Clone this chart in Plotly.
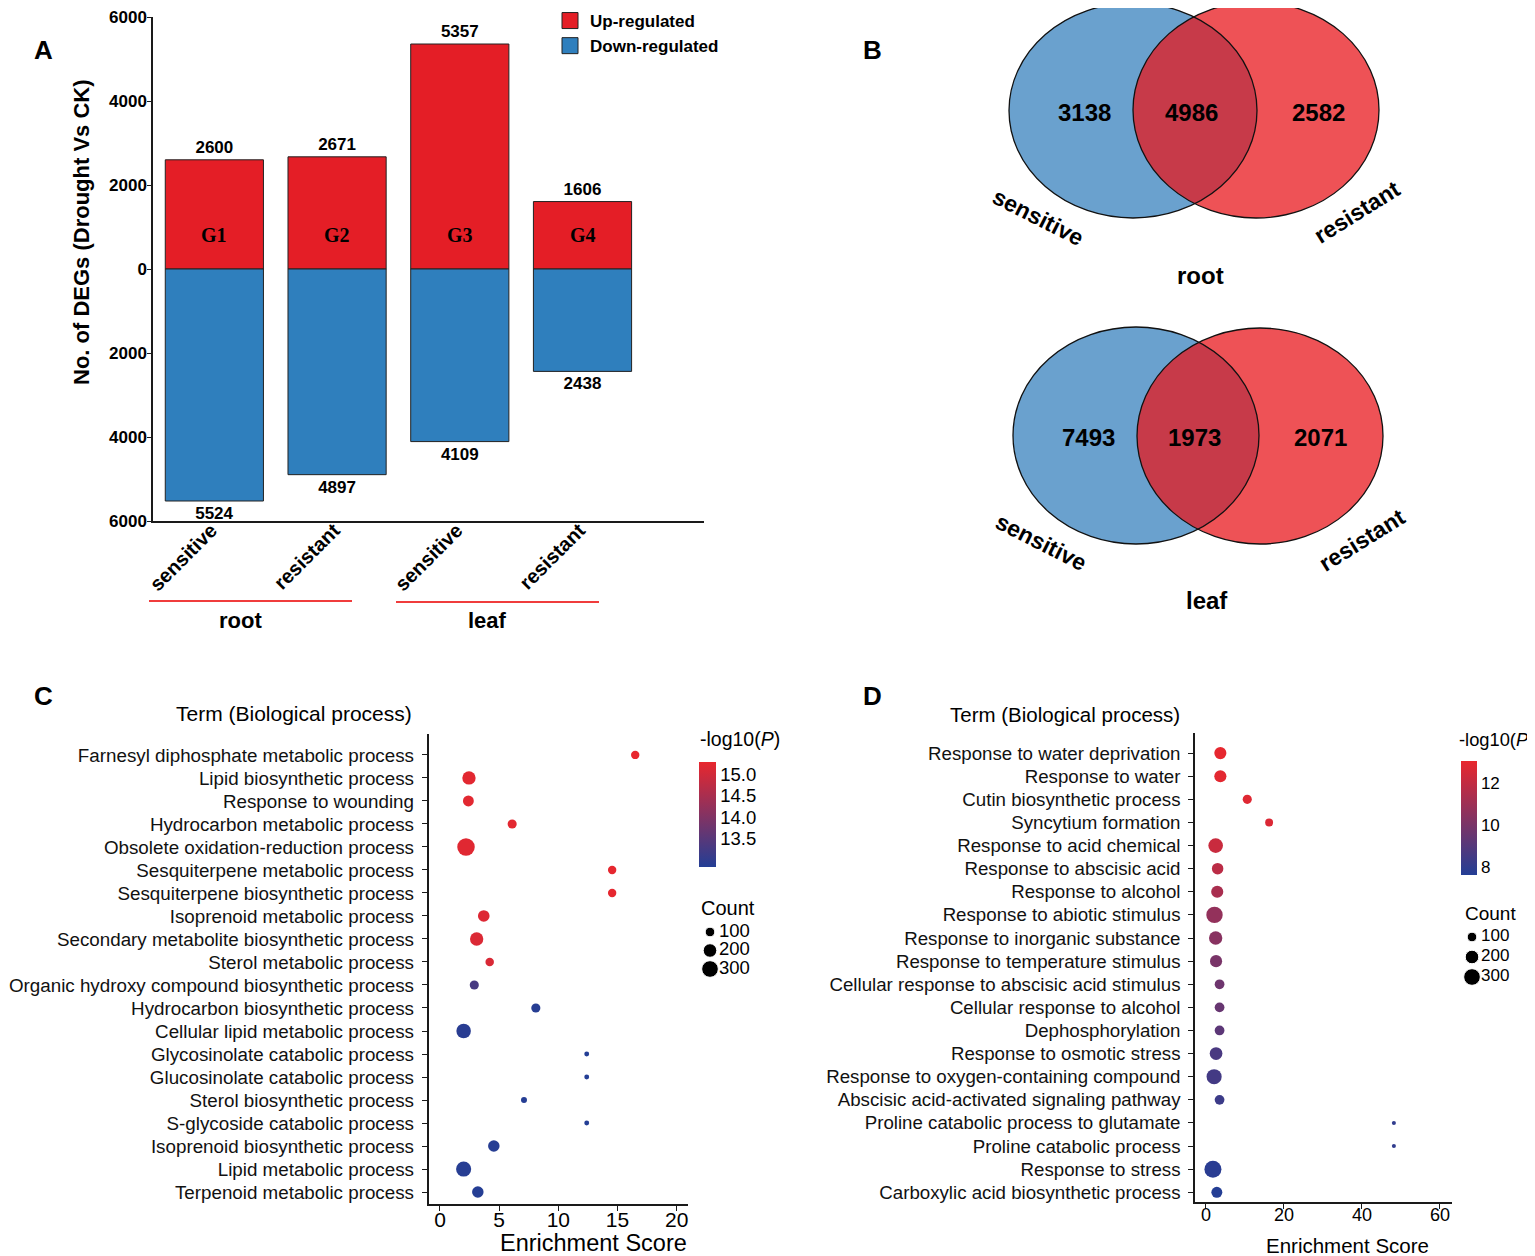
import plotly.graph_objects as go

# The page places the figure 8 px from the top-left corner of the window,
# so the figure is drawn 8 px smaller and every reference pixel is shifted by 8.
OFF = 8
W, H = 1535 - OFF, 1256 - OFF


def X(px):
    return (px - OFF) / W


def Y(py):
    return 1 - (py - OFF) / H


NARROW = "Liberation Sans, Arial, sans-serif"
SANS = "Liberation Sans, Arial, sans-serif"
SERIF = "Liberation Serif, Times New Roman, serif"

# ---------------- Panel A data ----------------
groups = ["G1", "G2", "G3", "G4"]
a_ticks = ["sensitive", "resistant", "sensitive", "resistant"]
tissues = ["root", "leaf"]
up_counts = [2600, 2671, 5357, 1606]
down_counts = [5524, 4897, 4109, 2438]
a_yticks = [-6000, -4000, -2000, 0, 2000, 4000, 6000]

# ---------------- Panel B data ----------------
venn_tissues = ["root", "leaf"]
venn_sets = ["sensitive", "resistant"]
only_sensitive = [3138, 7493]
shared = [4986, 1973]
only_resistant = [2582, 2071]

# ---------------- Panel C data ----------------
c_terms = [
    "Farnesyl diphosphate metabolic process",
    "Lipid biosynthetic process",
    "Response to wounding",
    "Hydrocarbon metabolic process",
    "Obsolete oxidation-reduction process",
    "Sesquiterpene metabolic process",
    "Sesquiterpene biosynthetic process",
    "Isoprenoid metabolic process",
    "Secondary metabolite biosynthetic process",
    "Sterol metabolic process",
    "Organic hydroxy compound biosynthetic process",
    "Hydrocarbon biosynthetic process",
    "Cellular lipid metabolic process",
    "Glycosinolate catabolic process",
    "Glucosinolate catabolic process",
    "Sterol biosynthetic process",
    "S-glycoside catabolic process",
    "Isoprenoid biosynthetic process",
    "Lipid metabolic process",
    "Terpenoid metabolic process",
]
c_score = [16.5, 2.45, 2.4, 6.1, 2.2, 14.55, 14.55, 3.7, 3.1, 4.2,
           2.9, 8.1, 2.0, 12.4, 12.4, 7.1, 12.4, 4.55, 2.0, 3.2]
c_count = [76, 193, 128, 90, 330, 76, 76, 146, 193, 78,
           90, 90, 228, 26, 26, 39, 26, 143, 248, 143]
c_logp = [15.28, 15.2, 15.2, 15.22, 15.18, 15.25, 15.25, 15.15, 15.12, 15.1,
          13.3, 12.9, 12.92, 12.86, 12.86, 12.88, 12.86, 12.9, 12.9, 12.88]

# ---------------- Panel D data ----------------
d_terms = [
    "Response to water deprivation",
    "Response to water",
    "Cutin biosynthetic process",
    "Syncytium formation",
    "Response to acid chemical",
    "Response to abscisic acid",
    "Response to alcohol",
    "Response to abiotic stimulus",
    "Response to inorganic substance",
    "Response to temperature stimulus",
    "Cellular response to abscisic acid stimulus",
    "Cellular response to alcohol",
    "Dephosphorylation",
    "Response to osmotic stress",
    "Response to oxygen-containing compound",
    "Abscisic acid-activated signaling pathway",
    "Proline catabolic process to glutamate",
    "Proline catabolic process",
    "Response to stress",
    "Carboxylic acid biosynthetic process",
]
d_score = [3.7, 3.7, 10.6, 16.2, 2.5, 3.0, 2.9, 2.2, 2.5, 2.6,
           3.5, 3.5, 3.5, 2.6, 2.1, 3.5, 48.2, 48.2, 1.8, 2.8]
d_count = [159, 159, 90, 67, 231, 143, 159, 290, 193, 159,
           103, 103, 103, 175, 247, 103, 18, 18, 312, 130]
d_logp = [13.0, 12.9, 12.8, 12.7, 12.2, 11.8, 11.3, 10.7, 10.4, 10.0,
          9.7, 9.5, 9.2, 8.7, 8.5, 8.3, 8.0, 8.0, 7.8, 7.65]

legend_counts = [100, 200, 300]

RED = "#e41e26"
BLUE = "#2f7fbd"
LOWC = "#233e95"
HIGHC = "#e8272e"
SIZEREF = 1 / 0.68 ** 2

fig = go.Figure()

# ---------- Panel A bars ----------
idx = list(range(len(groups)))
fig.add_trace(go.Bar(
    x=idx, y=up_counts, width=0.8, name="Up-regulated", showlegend=False,
    marker=dict(color=RED, line=dict(color="#222222", width=1)),
    text=[str(v) for v in up_counts], textposition="outside",
    outsidetextfont=dict(family=SANS, size=17, color="black", weight="bold"),
    cliponaxis=False, xaxis="x", yaxis="y"))
fig.add_trace(go.Bar(
    x=idx, y=[-v for v in down_counts], width=0.8, name="Down-regulated", showlegend=False,
    marker=dict(color=BLUE, line=dict(color="#222222", width=1)),
    text=[str(v) for v in down_counts], textposition="outside",
    outsidetextfont=dict(family=SANS, size=17, color="black", weight="bold"),
    cliponaxis=False, xaxis="x", yaxis="y"))
for name, col in [("Up-regulated", RED), ("Down-regulated", BLUE)]:
    fig.add_trace(go.Scatter(
        x=[None], y=[None], mode="markers", name=name, legend="legend",
        marker=dict(symbol="square", size=18, color=col, line=dict(color="#222222", width=1)),
        xaxis="x", yaxis="y"))

# ---------- Panel C dots ----------
fig.add_trace(go.Scatter(
    x=c_score, y=c_terms, mode="markers", showlegend=False, cliponaxis=False,
    marker=dict(size=c_count, sizemode="area", sizeref=SIZEREF, color=c_logp,
                coloraxis="coloraxis", opacity=1, line=dict(width=0)),
    xaxis="x2", yaxis="y2"))

# ---------- Panel D dots ----------
fig.add_trace(go.Scatter(
    x=d_score, y=d_terms, mode="markers", showlegend=False, cliponaxis=False,
    marker=dict(size=d_count, sizemode="area", sizeref=SIZEREF, color=d_logp,
                coloraxis="coloraxis2", opacity=1, line=dict(width=0)),
    xaxis="x3", yaxis="y3"))

# ---------- Count size legends (hidden axes) ----------
for xa, ya, fsize in [("x4", "y4", 18.5), ("x5", "y5", 17)]:
    fig.add_trace(go.Scatter(
        x=[10] * len(legend_counts), y=legend_counts, mode="markers", showlegend=False,
        marker=dict(size=legend_counts, sizemode="area", sizeref=SIZEREF, color="black",
                    opacity=1),
        xaxis=xa, yaxis=ya, cliponaxis=False))
    fig.add_trace(go.Scatter(
        x=[19] * len(legend_counts), y=legend_counts, mode="text", showlegend=False,
        text=[str(v) for v in legend_counts], textposition="middle right",
        textfont=dict(family=NARROW, size=fsize, color="black"),
        xaxis=xa, yaxis=ya, cliponaxis=False))

axis_line = dict(showline=True, linecolor="#1a1a1a", linewidth=1.5, showgrid=False,
                 zeroline=False, mirror=False, automargin=False)


def legend_range(y_first, y_last, top=900, bottom=1000):
    step = (y_last - y_first) / 200.0  # px per count unit
    return [300 + (bottom - y_last) / step, 100 - (y_first - top) / step]


layout = dict(
    width=W, height=H,
    margin=dict(l=0, r=0, t=0, b=0, autoexpand=False),
    paper_bgcolor="white", plot_bgcolor="rgba(0,0,0,0)",
    barmode="relative",
    showlegend=True,
    legend=dict(x=X(550), y=Y(3), xanchor="left", yanchor="top",
                font=dict(family=SANS, size=17, color="black", weight="bold"),
                bgcolor="rgba(0,0,0,0)", itemsizing="trace", itemwidth=30,
                tracegroupgap=0),
    xaxis=dict(domain=[X(153), X(704)], range=[-0.5, 3.99], anchor="y",
               tickmode="array", tickvals=idx, ticktext=a_ticks, tickangle=-45,
               ticks="", ticklabelstandoff=-12, ticklabelshift=-3,
               tickfont=dict(family=SANS, size=20, color="black", weight="bold"),
               **axis_line),
    yaxis=dict(domain=[Y(521), Y(17)], range=[-6000, 6000], anchor="x",
               tickmode="array", tickvals=a_yticks,
               ticktext=[str(abs(v)) for v in a_yticks],
               ticks="outside", ticklen=4, tickcolor="#1a1a1a", ticklabelstandoff=-3,
               ticklabeloverflow="allow",
               tickfont=dict(family=SANS, size=17, color="black", weight="bold"),
               **axis_line),
    xaxis2=dict(domain=[X(428.5), X(688)], range=[-0.97, 20.96], anchor="y2",
                tickmode="array", tickvals=[0, 5, 10, 15, 20],
                ticks="outside", ticklen=5, tickcolor="#1a1a1a", ticklabelstandoff=-9,
                tickfont=dict(family=NARROW, size=21, color="black"), **axis_line),
    yaxis2=dict(domain=[Y(1204), Y(734)], anchor="x2", type="category",
                categoryorder="array", categoryarray=c_terms, range=[19.52, -0.91],
                tickmode="array", tickvals=c_terms,
                ticks="outside", ticklen=5, tickcolor="#1a1a1a", ticklabelstandoff=4,
                ticklabeloverflow="allow",
                tickfont=dict(family=NARROW, size=18.8, color="#111111"), **axis_line),
    xaxis3=dict(domain=[X(1195), X(1452)], range=[-2.8, 63.1], anchor="y3",
                tickmode="array", tickvals=[0, 20, 40, 60],
                ticks="outside", ticklen=5, tickcolor="#1a1a1a", ticklabelstandoff=-9,
                tickfont=dict(family=NARROW, size=18, color="black"), **axis_line),
    yaxis3=dict(domain=[Y(1202), Y(733)], anchor="x3", type="category",
                categoryorder="array", categoryarray=d_terms, range=[19.42, -0.87],
                tickmode="array", tickvals=d_terms,
                ticks="outside", ticklen=5, tickcolor="#1a1a1a", ticklabelstandoff=4,
                tickfont=dict(family=NARROW, size=18.7, color="#111111"), **axis_line),
    xaxis4=dict(domain=[X(700), X(760)], range=[0, 60], visible=False, anchor="y4",
                automargin=False),
    yaxis4=dict(domain=[Y(1000), Y(900)], range=legend_range(932, 969),
                visible=False, anchor="x4", automargin=False),
    xaxis5=dict(domain=[X(1462), X(1522)], range=[0, 60], visible=False, anchor="y5",
                automargin=False),
    yaxis5=dict(domain=[Y(1000), Y(900)], range=legend_range(937, 977),
                visible=False, anchor="x5", automargin=False),
    coloraxis=dict(cmin=12.85, cmax=15.28, colorscale=[[0, LOWC], [1, HIGHC]],
                   colorbar=dict(x=X(699), xanchor="left", y=Y(814.5), yanchor="middle",
                                 len=105, lenmode="pixels", thickness=17, outlinewidth=0,
                                 ticks="", xpad=0, ypad=0,
                                 tickmode="array", tickvals=[13.5, 14.0, 14.5, 15.0],
                                 ticktext=["13.5", "14.0", "14.5", "15.0"],
                                 tickfont=dict(family=NARROW, size=18.5, color="black"))),
    coloraxis2=dict(cmin=7.62, cmax=13.05, colorscale=[[0, LOWC], [1, HIGHC]],
                    colorbar=dict(x=X(1461), xanchor="left", y=Y(818), yanchor="middle",
                                  len=114, lenmode="pixels", thickness=16, outlinewidth=0,
                                  ticks="", xpad=0, ypad=0,
                                  tickmode="array", tickvals=[8, 10, 12],
                                  tickfont=dict(family=NARROW, size=17, color="black"))),
)

ann = []


def add_text(px, py, text, size, family=SANS, bold=False, xanchor="center",
             angle=0, color="black"):
    ann.append(dict(x=X(px), y=Y(py), xref="paper", yref="paper", text=text,
                    showarrow=False, xanchor=xanchor, yanchor="middle",
                    textangle=angle,
                    font=dict(family=family, size=size, color=color,
                              weight="bold" if bold else "normal")))


# panel letters
for letter, px, py in [("A", 43, 50), ("B", 872, 50), ("C", 43, 696), ("D", 872, 696)]:
    add_text(px, py, letter, 26, bold=True)

# Panel A annotations
add_text(81, 232, "No. of DEGs (Drought Vs CK)", 22, bold=True, angle=-90)
for i, g in enumerate(groups):
    ann.append(dict(x=i, y=800, xref="x", yref="y", text=g, showarrow=False,
                    yanchor="middle",
                    font=dict(family=SERIF, size=20, color="black", weight="bold")))
for t, (x0, x1, py) in zip(tissues, [(149, 352, 601), (396, 599, 602)]):
    add_text((x0 + x1) / 2 - 10, 620, t, 22, bold=True)

# Panel B venn
shapes = []
venn_geo = [
    ((1009, 1257, 3, 218), (1133, 1379, 2, 218), 112, 275, (1038, 217), (1357, 212)),
    ((1013, 1259, 327, 544), (1137, 1383, 328, 544), 437, 600, (1041, 542), (1362, 540)),
]
for k, (bg, rg, ny, ty, sens_xy, res_xy) in enumerate(venn_geo):
    shapes.append(dict(type="circle", xref="paper", yref="paper", layer="above",
                       x0=X(bg[0]), x1=X(bg[1]), y0=Y(bg[3]), y1=Y(bg[2]),
                       fillcolor="#6aa1ce", line=dict(width=0)))
    shapes.append(dict(type="circle", xref="paper", yref="paper", layer="above",
                       x0=X(rg[0]), x1=X(rg[1]), y0=Y(rg[3]), y1=Y(rg[2]),
                       fillcolor="rgb(232,21,27)", opacity=0.74, line=dict(width=0)))
    for g in (bg, rg):
        shapes.append(dict(type="circle", xref="paper", yref="paper", layer="above",
                           x0=X(g[0]), x1=X(g[1]), y0=Y(g[3]), y1=Y(g[2]),
                           fillcolor="rgba(0,0,0,0)", line=dict(color="#111111", width=1.3)))
    add_text(1084 + (4 if k else 0), ny, str(only_sensitive[k]), 24, bold=True)
    add_text(1191 + (3 if k else 0), ny, str(shared[k]), 24, bold=True)
    add_text(1318 + (2 if k else 0), ny, str(only_resistant[k]), 24, bold=True)
    add_text(sens_xy[0], sens_xy[1], venn_sets[0], 23, bold=True, angle=27)
    add_text(res_xy[0], res_xy[1], venn_sets[1], 23, bold=True, angle=-32)
    add_text(1200 + (7 if k else 0), ty, venn_tissues[k], 24, bold=True)

# underline for tissue groups in A
for x0, x1, py in [(149, 352, 601), (396, 599, 602)]:
    shapes.append(dict(type="line", xref="paper", yref="paper",
                       x0=X(x0), x1=X(x1), y0=Y(py), y1=Y(py),
                       line=dict(color="#f03c3c", width=2.2)))

# Panel C / D titles
add_text(294, 713, "Term (Biological process)", 21, family=NARROW)
add_text(593, 1243, "Enrichment Score", 23.5, family=NARROW)
add_text(1065, 714, "Term (Biological process)", 20.5, family=NARROW)
add_text(1347, 1245, "Enrichment Score", 20.5, family=NARROW)
add_text(698, 739, "-log10(<i>P</i>)", 19.5, family=NARROW, xanchor="left")
add_text(1457, 739, "-log10(<i>P</i>)", 18.3, family=NARROW, xanchor="left")
add_text(699, 908, "Count", 20, family=NARROW, xanchor="left")
add_text(1463, 913, "Count", 19, family=NARROW, xanchor="left")

layout["annotations"] = ann
layout["shapes"] = shapes
fig.update_layout(**layout)

fig.write_html("out.html")
